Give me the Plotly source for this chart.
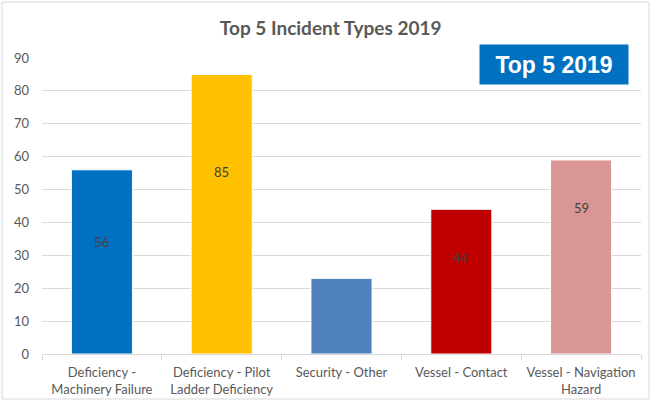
import plotly.graph_objects as go

# Incident counts per type, 2019
categories = [
    "Deficiency -<br>Machinery Failure",
    "Deficiency - Pilot<br>Ladder Deficiency",
    "Security - Other",
    "Vessel - Contact",
    "Vessel - Navigation<br>Hazard",
]
counts = [56, 85, 23, 44, 59]
shown_labels = ["56", "85", "", "44", "59"]
y_ticks = [0, 10, 20, 30, 40, 50, 60, 70, 80, 90]

bar_colors = ["#0070C0", "#FFC000", "#4F81BD", "#C00000", "#DA9694"]
# vertical placement of each value label, as a fraction of its bar height
label_frac = [0.61, 0.65, 0.5, 0.66, 0.75]

FONT = "Lato, Open Sans, sans-serif"

fig = go.Figure()
fig.add_trace(go.Bar(
    x=categories,
    y=counts,
    marker=dict(color=bar_colors, line=dict(color="white", width=1)),
    hoverinfo="skip",
))

for cat, val, txt, frac in zip(categories, counts, shown_labels, label_frac):
    if txt:
        fig.add_annotation(x=cat, y=val * frac, text=txt, showarrow=False,
                           font=dict(family=FONT, size=13, color="#404040"))

fig.update_layout(
    width=651, height=401,
    margin=dict(l=42, r=10, t=58, b=47),
    paper_bgcolor="white", plot_bgcolor="white",
    bargap=0.49,
    showlegend=False,
    title=dict(text="<b>Top 5 Incident Types 2019</b>", x=0.508, xanchor="center",
               y=0.93, yanchor="middle",
               font=dict(family=FONT, size=19, color="#595959")),
    font=dict(family=FONT, size=13, color="#595959"),
)

fig.update_yaxes(range=[0, 90], tickvals=y_ticks, showgrid=True, gridcolor="#D9D9D9",
                 gridwidth=1, zeroline=False, showline=False, ticks="",
                 tickfont=dict(size=13, color="#595959"), ticklabelstandoff=12,
                 automargin=False)
fig.update_xaxes(showline=True, linecolor="#D9D9D9", linewidth=1, ticks="outside",
                 tickson="boundaries", ticklen=5, tickcolor="#D9D9D9",
                 tickfont=dict(size=13, color="#595959"), showgrid=False,
                 ticklabelstandoff=6, automargin=False)

# badge in the upper right
fig.add_annotation(xref="paper", yref="paper", x=0.855, y=0.978, xanchor="center",
                   yanchor="middle", text="<b>Top 5 2019</b>",
                   showarrow=False, bgcolor="#0070C0", width=142, height=33, borderpad=3,
                   font=dict(family="Liberation Sans, Arial", size=23, color="white"))

# outer frame
fig.add_shape(type="rect", xref="paper", yref="paper",
              x0=-40 / 599, x1=1 + 8 / 599, y0=-45 / 296, y1=1 + 56 / 296,
              line=dict(color="#D9D9D9", width=1), fillcolor="rgba(0,0,0,0)")

fig.write_html("out.html")
